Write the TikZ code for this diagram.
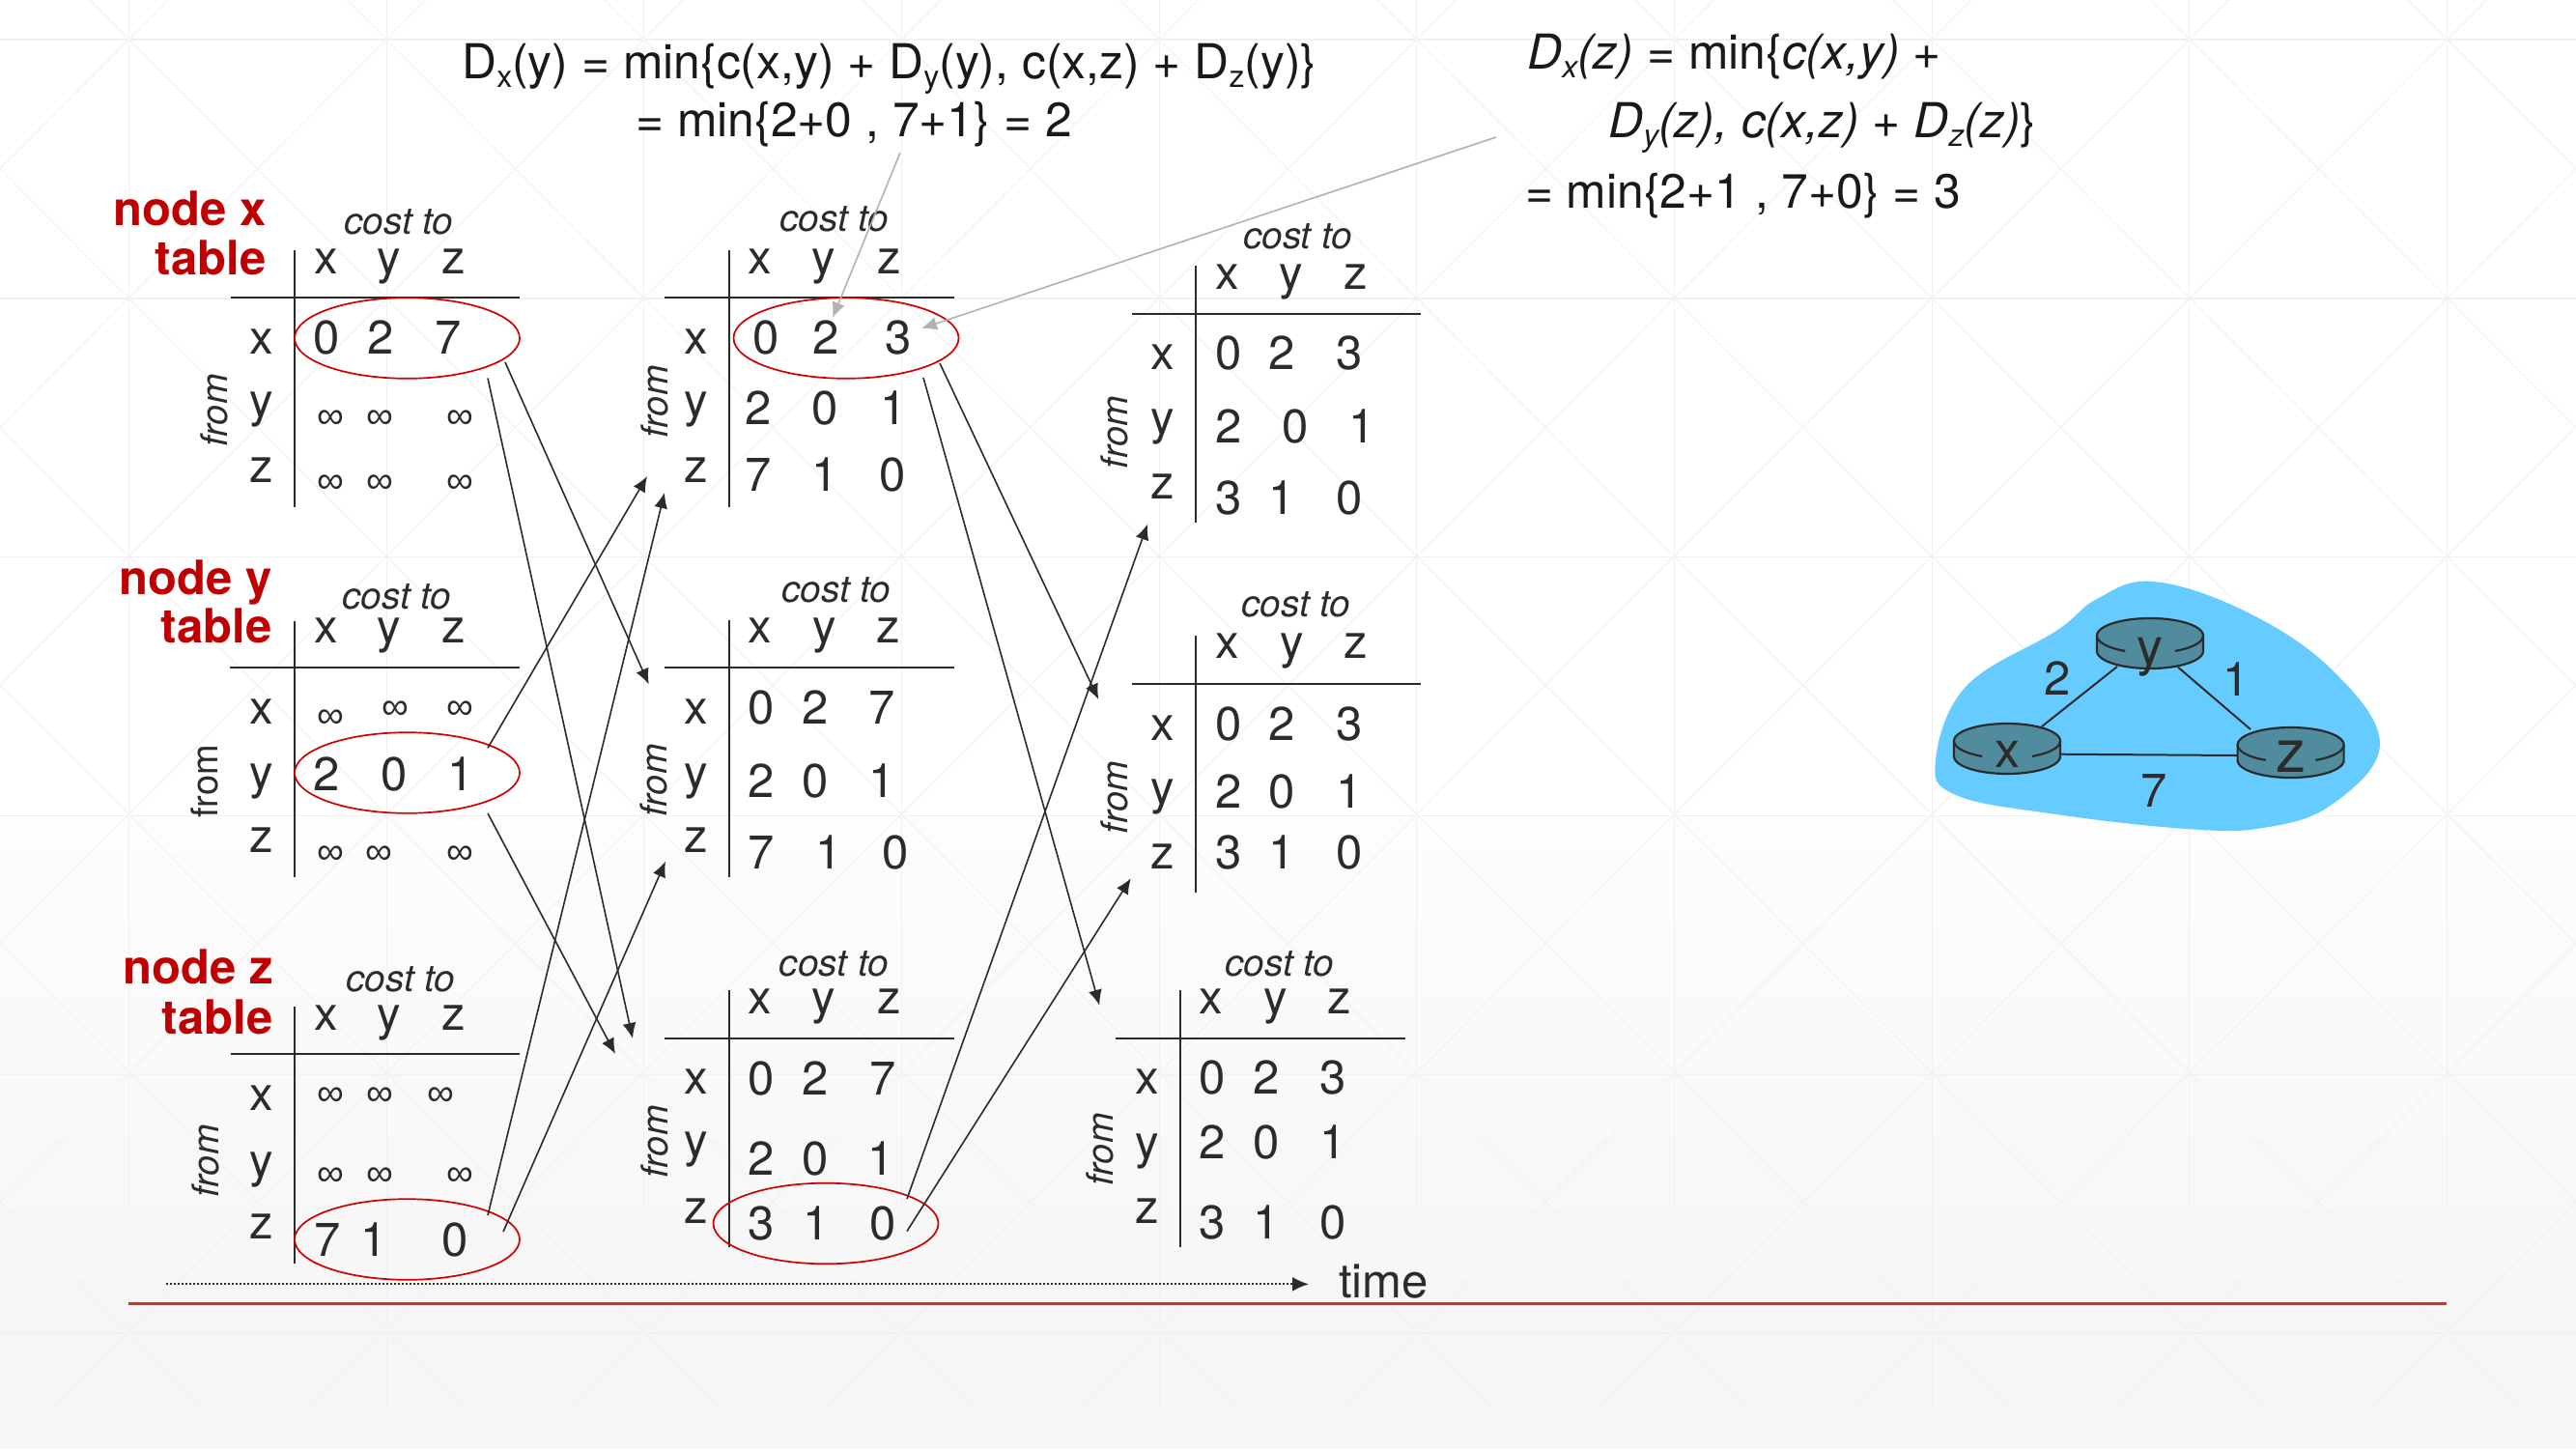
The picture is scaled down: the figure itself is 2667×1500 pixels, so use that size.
\documentclass[tikz,border=0pt]{standalone}
\usepackage{fontspec}
\setmainfont{TeX Gyre Heros}
\newfontfamily\inffont{Liberation Sans}
\usetikzlibrary{arrows.meta,shapes.geometric}
\definecolor{ink}{HTML}{2B2B2B}
\definecolor{gridc}{HTML}{F1F1F1}
\definecolor{nodered}{HTML}{C00000}
\definecolor{ringred}{HTML}{D00000}
\definecolor{rulered}{HTML}{A0483A}
\definecolor{blobc}{HTML}{66CCFF}
\definecolor{routerc}{HTML}{508C9E}
\definecolor{callout}{HTML}{B2B2B2}
\definecolor{bgtop}{HTML}{FDFDFD}
\definecolor{bgbot}{HTML}{F6F6F6}
\tikzset{
  cell/.style={inner sep=0pt,anchor=base,text=ink,font=\fontsize{24.5}{25}\selectfont},
  infcell/.style={inner sep=0pt,anchor=center,yshift=-1.5pt,text=ink,font=\inffont\fontsize{19.5}{20}\selectfont},
  costlab/.style={inner sep=0pt,anchor=base,text=ink,font=\itshape\fontsize{19.4}{20}\selectfont},
  fromit/.style={inner sep=0pt,anchor=base,rotate=90,text=ink,font=\itshape\fontsize{19}{20}\selectfont},
  fromup/.style={inner sep=0pt,anchor=base,rotate=90,text=ink,font=\fontsize{19}{20}\selectfont},
  nodelab/.style={inner sep=0pt,anchor=base east,text=nodered,font=\bfseries\fontsize{24.5}{25}\selectfont},
  eqn/.style={inner sep=0pt,anchor=base west,text=black!90,font=\fontsize{24.9}{25}\selectfont},
  tline/.style={draw=ink,line width=1pt},
  ring/.style={ellipse,draw=ringred,line width=0.85pt,inner sep=0pt,minimum width=116.5pt,minimum height=41.8pt},
  flow/.style={draw=ink,line width=0.8pt,-{Latex[length=8pt,width=7pt]}},
  calloutarrow/.style={draw=callout,line width=0.8pt,-{Latex[length=8pt,width=7pt]}},
  netlink/.style={draw=ink,line width=1pt},
}
\newcommand\lowsub[1]{\raisebox{-4.5pt}{\fontsize{16}{16}\selectfont #1}}
\newcommand\tframe[7]{%
  \coordinate (#1v1) at (#2,#4); \coordinate (#1v2) at (#2,#5);
  \coordinate (#1h1) at (#6,#3); \coordinate (#1h2) at (#7,#3);
  \draw[tline] (#1v1) -- (#1v2);
  \draw[tline] (#1h1) -- (#1h2);}
\newcommand\theads[7]{%
  \node[cell] (#1hx) at (#2,#5) {x};
  \node[cell] (#1hy) at (#3,#5) {y};
  \node[cell] (#1hz) at (#4,#5) {z};
  \node[costlab] (#1cost) at (#6,#7) {cost to};}
\newcommand\tlabels[5]{%
  \node[cell] (#1lx) at (#2,#3) {x};
  \node[cell] (#1ly) at (#2,#4) {y};
  \node[cell] (#1lz) at (#2,#5) {z};}
\newcommand\vrow[8]{%
  \node[cell] (#1a) at (#2,#8) {#3};
  \node[cell] (#1b) at (#4,#8) {#5};
  \node[cell] (#1c) at (#6,#8) {#7};}
\newcommand\irow[7]{%
  \node[infcell] (#1a) at (#2,#3) {∞};
  \node[infcell] (#1b) at (#4,#5) {∞};
  \node[infcell] (#1c) at (#6,#7) {∞};}
\newcommand\router[6]{% name, cx, cy, label, label baseline, size
  \filldraw[fill=routerc,draw=ink,line width=1.1pt]
    plot[domain=180:360,samples=40] ({#2+55*cos(\x)},{#3+18*sin(\x)})
    -- plot[domain=0:180,samples=40] ({#2+55*cos(\x)},{#3+16+18*sin(\x)}) -- cycle;
  \draw[draw=ink,line width=1.1pt] plot[domain=180:118,samples=20] ({#2+55*cos(\x)},{#3+18*sin(\x)});
  \draw[draw=ink,line width=1.1pt] plot[domain=0:62,samples=20] ({#2+55*cos(\x)},{#3+18*sin(\x)});
  \node[inner sep=0pt,anchor=base,text=ink,font=\fontsize{#6}{#6}\selectfont] (#1) at (#2,#5) {#4};}
\begin{document}
\begin{tikzpicture}[x=0.5pt,y=-0.5pt]
\useasboundingbox (0,0) rectangle (2667,1500);
% background
\fill[white] (0,0) rectangle (2667,846);
\shade[top color=bgtop,bottom color=bgbot] (0,846) rectangle (2667,1360);
\fill[bgbot] (0,1359) rectangle (2667,1500);
\begin{scope}
  \clip (0,0) rectangle (2667,1457);
  \foreach \k in {-6,...,15} {
    \draw[gridc,line width=0.5pt] ({133.3+266.7*\k-40.9},0) -- ({133.3+266.7*\k+1412.3},1457);
    \draw[gridc,line width=0.5pt] ({133.3+266.7*\k+40.9},0) -- ({133.3+266.7*\k-1412.3},1457);
  }
  \foreach \k in {0,...,9} \draw[gridc,line width=0.5pt] ({133.3+266.7*\k},0) -- ({133.3+266.7*\k},1457);
  \foreach \k in {0,...,5} \draw[gridc,line width=0.7pt] (0,{41+267.8*\k}) -- (2667,{41+267.8*\k});
\end{scope}
% rule and time axis
\coordinate (rl) at (133,1349.7); \coordinate (rr) at (2533,1349.7);
\draw[rulered,line width=1.3pt] (rl) -- (rr);
\coordinate (ts) at (172,1329.3); \coordinate (te) at (1355,1329.3);
\draw[ink,line width=1pt,dash pattern=on 1pt off 1pt,-{Latex[length=8.5pt,width=7.5pt]}] (ts) -- (te);
\node[cell] (timelab) at (1432.5,1343.3) {time};
% node titles
\node[nodelab] (tx1) at (276,233.5) {node x};
\node[nodelab] (tx2) at (276,284) {table};
\node[nodelab] (ty1) at (282,615) {node y};
\node[nodelab] (ty2) at (282,665.7) {table};
\node[nodelab] (tz1) at (283,1018.4) {node z};
\node[nodelab] (tz2) at (283,1070) {table};
% table A
\tframe{A}{305}{308}{259}{525}{239}{538}
\theads{A}{337.5}{403}{470}{283}{413}{242}
\tlabels{A}{271}{366}{431}{499}
\node[fromit] (Afrom) at (235,425) {from};
\vrow{Ar}{338}{0}{394}{2}{464}{7}{366}
\irow{As}{342}{431}{393}{431}{476}{431}
\irow{At}{342}{498}{393}{498}{476}{498}
% table B
\tframe{B}{755}{308}{259}{525}{688}{988}
\theads{B}{787}{853}{921}{283}{864}{239}
\tlabels{B}{721}{366}{431}{499}
\node[fromit] (Bfrom) at (691,416) {from};
\vrow{Br}{793}{0}{855}{2}{930}{3}{366}
\vrow{Bs}{785}{2}{854}{0}{925}{1}{439}
\vrow{Bt}{785}{7}{854}{1}{924}{0}{508}
% table C
\tframe{C}{1238}{324.7}{275}{541}{1171.7}{1471}
\theads{C}{1270.5}{1337}{1404}{299}{1343.5}{257}
\tlabels{C}{1204}{382.7}{449.3}{516}
\node[fromit] (Cfrom) at (1167,447.5) {from};
\vrow{Cr}{1271.7}{0}{1327.3}{2}{1396.7}{3}{382.7}
\vrow{Cs}{1271.7}{2}{1341}{0}{1410}{1}{458.3}
\vrow{Ct}{1271.7}{3}{1327.3}{1}{1396.7}{0}{532.7}
% table D
\tframe{D}{304.7}{691.3}{642.7}{907.7}{238}{538}
\theads{D}{337.3}{402.7}{469.3}{665.7}{410.7}{630.7}
\tlabels{D}{270.3}{749}{816}{882.7}
\node[fromup] (Dfrom) at (225,809) {from};
\irow{Dr}{342.7}{741}{409}{732}{476}{732}
\vrow{Ds}{338}{2}{407.7}{0}{476.7}{1}{818}
\irow{Dt}{342.7}{881.7}{392.7}{881.7}{476}{881.7}
% table E
\tframe{E}{755}{691.3}{642.3}{907.7}{688}{987.7}
\theads{E}{786.7}{853.3}{920}{665.7}{865.7}{623.3}
\tlabels{E}{720.7}{749.3}{816}{882.7}
\node[fromit] (Efrom) at (690,808) {from};
\vrow{Er}{788.3}{0}{844}{2}{913.3}{7}{749.3}
\vrow{Es}{788.3}{2}{844}{0}{913.3}{1}{825}
\vrow{Et}{788.3}{7}{858.3}{1}{927.3}{0}{899.3}
% table F
\tframe{F}{1238}{708}{658.3}{924.3}{1171.7}{1471}
\theads{F}{1270.7}{1337.3}{1403.3}{681.7}{1341.7}{638.3}
\tlabels{F}{1204}{766}{832.7}{899.3}
\node[fromit] (Ffrom) at (1167,825.7) {from};
\vrow{Fr}{1271.7}{0}{1327.3}{2}{1396.7}{3}{766}
\vrow{Fs}{1271.7}{2}{1327.3}{0}{1396.7}{1}{836.7}
\vrow{Ft}{1271.7}{3}{1327.3}{1}{1396.7}{0}{899.3}
% table G
\tframe{G}{305}{1091}{1042}{1308}{239}{538}
\theads{G}{337.5}{403}{470}{1066}{415}{1026.5}
\tlabels{G}{271}{1149}{1218}{1282}
\node[fromit] (Gfrom) at (226,1202) {from};
\irow{Gr}{342}{1132}{393}{1132}{456}{1132}
\irow{Gs}{342}{1215}{393}{1215}{476}{1215}
\vrow{Gt}{339}{7}{387}{1}{471.6}{0}{1300}
% table H
\tframe{H}{755}{1074.5}{1025.4}{1291}{688}{988}
\theads{H}{787}{853}{921}{1049}{863.3}{1010}
\tlabels{H}{721}{1132}{1197}{1266}
\node[fromit] (Hfrom) at (691,1182) {from};
\vrow{Hr}{788}{0}{844}{2}{914}{7}{1133}
\vrow{Hs}{788}{2}{844}{0}{912}{1}{1216.6}
\vrow{Ht}{788}{3}{845.6}{1}{914}{0}{1283}
% table I
\tframe{I}{1221.7}{1074.7}{1025}{1291}{1155}{1455}
\theads{I}{1254}{1320.7}{1386.7}{1049.3}{1325}{1010}
\tlabels{I}{1187.3}{1132.7}{1199.3}{1266}
\node[fromit] (Ifrom) at (1152,1190) {from};
\vrow{Ir}{1255}{0}{1310.7}{2}{1380}{3}{1132.7}
\vrow{Is}{1255}{2}{1310.7}{0}{1380}{1}{1199.3}
\vrow{It}{1255}{3}{1310.7}{1}{1380}{0}{1282.7}
% rings
\node[ring] (ringA) at (421.5,350) {};
\node[ring] (ringB) at (876,350) {};
\node[ring] (ringD) at (421.5,800) {};
\node[ring] (ringG) at (421.5,1283) {};
\node[ring] (ringH) at (855,1266.5) {};
% flow arrows
\coordinate (a1s) at (523,375);    \coordinate (a1e) at (671.7,708.3);
\coordinate (a2s) at (505,391.5);  \coordinate (a2e) at (655,1075);
\coordinate (d1s) at (505,774.3);  \coordinate (d1e) at (670,493);
\coordinate (d2s) at (505,842);    \coordinate (d2e) at (637,1091);
\coordinate (g1s) at (505,1258);   \coordinate (g1e) at (688,510);
\coordinate (g2s) at (521,1275);   \coordinate (g2e) at (689,891.7);
\coordinate (b1s) at (973,376);    \coordinate (b1e) at (1137.3,724);
\coordinate (b2s) at (956,391);    \coordinate (b2e) at (1138.3,1040.7);
\coordinate (h1s) at (939,1241);   \coordinate (h1e) at (1188,542.7);
\coordinate (h2s) at (939,1274.5); \coordinate (h2e) at (1170.7,909.3);
\foreach \p in {a1,a2,d1,d2,g1,g2,b1,b2,h1,h2} \draw[flow] (\p s) -- (\p e);
% equations
\node[eqn] (eqa1) at (478,81) {D\lowsub{x}(y) = min\{c(x,y) + D\lowsub{y}(y), c(x,z) + D\lowsub{z}(y)\}};
\node[eqn] (eqa2) at (658,141) {= min\{2+0 , 7+1\} = 2};
\node[eqn] (eqb1) at (1581,71) {\textit{D\lowsub{x}(z) =} min\{\textit{c(x,y) +}};
\node[eqn] (eqb2) at (1665,142.7) {\textit{D\lowsub{y}(z), c(x,z) + D\lowsub{z}(z)}\}};
\node[eqn] (eqb3) at (1578.7,215) {= min\{2+1 , 7+0\} = 3};
% callouts
\coordinate (c1s) at (932,158); \coordinate (c1e) at (862,329);
\coordinate (c2s) at (1549,142); \coordinate (c2e) at (954,340);
\draw[calloutarrow] (c1s) -- (c1e);
\draw[calloutarrow] (c2s) -- (c2e);
% network
\fill[blobc] plot[smooth cycle,tension=0.65] coordinates {(2229,602) (2325,633) (2414,693) (2464,770) (2414,833) (2343,857) (2264,858) (2129,843) (2025,823) (2004,787) (2036,710) (2129,653) (2171,620)};
\coordinate (lxy1) at (2114,752); \coordinate (lxy2) at (2192,690);
\coordinate (lyz1) at (2255,690.7); \coordinate (lyz2) at (2330,755);
\coordinate (lxz1) at (2133,780.7); \coordinate (lxz2) at (2316,782);
\draw[netlink] (lxy1) -- (lxy2);
\draw[netlink] (lyz1) -- (lyz2);
\draw[netlink] (lxz1) -- (lxz2);
\router{rx}{2078}{767}{x}{794}{26}
\router{ry}{2226}{658}{y}{688}{27}
\router{rz}{2371.6}{771}{z}{799}{31}
\node[cell] (w2) at (2130,719) {2};
\node[cell] (w1) at (2315,720) {1};
\node[cell] (w7) at (2230,835) {7};
\end{tikzpicture}
\end{document}
